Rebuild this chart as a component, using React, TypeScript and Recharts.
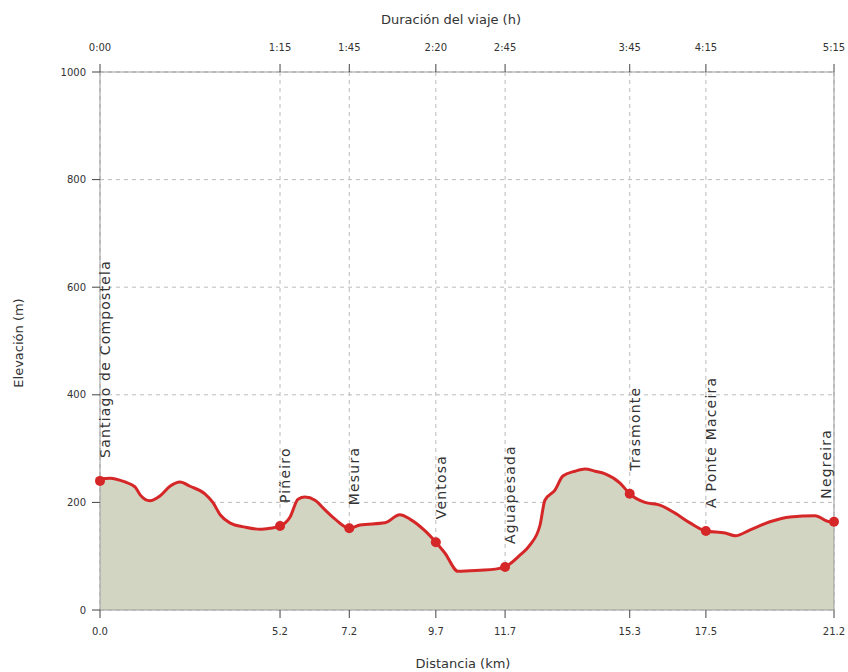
import React from "react";
import {
  ComposedChart,
  Area,
  Scatter,
  XAxis,
  YAxis,
  CartesianGrid,
  ReferenceLine,
} from "recharts";

// waypoints along the route
const stopKm = [0, 5.2, 7.2, 9.7, 11.7, 15.3, 17.5, 21.2];
const stopTimes = ["0:00", "1:15", "1:45", "2:20", "2:45", "3:45", "4:15", "5:15"];
const stopNames = [
  "Santiago de Compostela",
  "Piñeiro",
  "Mesura",
  "Ventosa",
  "Aguapesada",
  "Trasmonte",
  "A Ponte Maceira",
  "Negreira",
];
const stopElev = [240, 156, 152, 126, 80, 216, 147, 164];

// elevation profile
const profileKm = [
  0, 0.29, 0.72, 1.01, 1.16, 1.44, 1.73, 2.02, 2.31, 2.6, 3.03, 3.26, 3.47, 3.75, 4.19, 4.62, 4.91, 5.2,
  5.49, 5.72, 5.92, 6.21, 6.5, 6.79, 7.2, 7.51, 8.23, 8.66, 8.95, 9.39, 9.7, 9.96, 10.34, 10.98, 11.41,
  11.7, 12.13, 12.42, 12.71, 12.85, 13.14, 13.37, 13.72, 14.01, 14.3, 14.59, 15.02, 15.3, 15.74, 16.17,
  16.61, 17.04, 17.5, 18.06, 18.35, 18.78, 19.35, 19.93, 20.65, 21.08, 21.2,
];
const profileElev = [
  243, 245, 238, 229, 214, 203, 212, 230, 238, 230, 216, 200, 177, 162, 154, 150, 152, 156,
  173, 206, 210, 204, 186, 169, 152, 158, 162, 177, 169, 147, 126, 106, 72, 74, 76,
  80, 102, 121, 158, 204, 223, 249, 258, 262, 258, 253, 236, 216, 200, 195,
  180, 162, 147, 143, 138, 149, 164, 173, 175, 164, 164,
];

const elevTicks = [0, 200, 400, 600, 800, 1000];

const profile = profileKm.map((km, i) => ({ km, elev: profileElev[i] }));
const stops = stopKm.map((km, i) => ({ km, elev: stopElev[i], name: stopNames[i] }));

const RED = "#d62728";
const FONT = "'DejaVu Sans', sans-serif";
const tickStyle = { fill: "#333", fontSize: 10, fontFamily: FONT };

function timeFor(km: number): string {
  const i = stopKm.indexOf(km);
  return i >= 0 ? stopTimes[i] : "";
}

function StopMarker(props: any) {
  const { cx, cy, payload } = props;
  if (cx == null || cy == null) return null;
  const last = payload.km === stopKm[stopKm.length - 1];
  const tx = last ? cx - 8 : cx + 5;
  const ty = cy - 23;
  return (
    <g>
      <circle cx={cx} cy={cy} r={5} fill={RED} />
      <text
        x={tx}
        y={ty}
        transform={`rotate(-90 ${tx} ${ty})`}
        textAnchor="start"
        dominantBaseline="central"
        fontSize={14}
        letterSpacing={1.2}
        fontFamily={FONT}
        fill="#333"
      >
        {payload.name}
      </text>
    </g>
  );
}

export default function App() {
  return (
    <div style={{ position: "absolute", left: 0, top: 0, width: 848, height: 672, fontFamily: FONT }}>
      <ComposedChart
        width={848}
        height={672}
        data={profile}
        margin={{ top: 42, right: 14, bottom: 32, left: 40 }}
      >
        <XAxis
          xAxisId="bottom"
          dataKey="km"
          type="number"
          domain={[0, 21.2]}
          ticks={stopKm}
          tickFormatter={(v) => Number(v).toFixed(1)}
          height={30}
          tickSize={8}
          tickMargin={10}
          axisLine={{ stroke: "#999" }}
          tickLine={{ stroke: "#444" }}
          tick={tickStyle}
          interval={0}
        />
        <XAxis
          xAxisId="top"
          orientation="top"
          dataKey="km"
          type="number"
          domain={[0, 21.2]}
          ticks={stopKm}
          tickFormatter={timeFor}
          height={30}
          tickSize={8}
          tickMargin={13}
          axisLine={{ stroke: "#999" }}
          tickLine={{ stroke: "#444" }}
          tick={tickStyle}
          interval={0}
        />
        <YAxis
          type="number"
          domain={[0, 1000]}
          ticks={elevTicks}
          width={60}
          tickSize={8}
          tickMargin={6}
          axisLine={{ stroke: "#999" }}
          tickLine={{ stroke: "#444" }}
          tick={tickStyle}
          interval={0}
        />
        <Area
          xAxisId="bottom"
          type="monotone"
          dataKey="elev"
          stroke={RED}
          strokeWidth={3}
          fill="#d3d5c3"
          fillOpacity={1}
          isAnimationActive={false}
          dot={false}
          activeDot={false}
        />
        <CartesianGrid xAxisId="bottom" strokeDasharray="4 4" stroke="#bbb" />
        <ReferenceLine xAxisId="bottom" x={21.2} stroke="#999" strokeWidth={1} />
        <Scatter
          xAxisId="bottom"
          data={stops}
          dataKey="elev"
          shape={StopMarker}
          isAnimationActive={false}
        />
        <text x={451} y={19} textAnchor="middle" dominantBaseline="central" fontSize={13} fontFamily={FONT} fill="#333">
          Duración del viaje (h)
        </text>
        <text x={463} y={663} textAnchor="middle" dominantBaseline="central" fontSize={13} fontFamily={FONT} fill="#333">
          Distancia (km)
        </text>
        <text
          x={18}
          y={343}
          transform="rotate(-90 18 343)"
          textAnchor="middle"
          dominantBaseline="central"
          fontSize={13}
          fontFamily={FONT}
          fill="#333"
        >
          Elevación (m)
        </text>
      </ComposedChart>
    </div>
  );
}
